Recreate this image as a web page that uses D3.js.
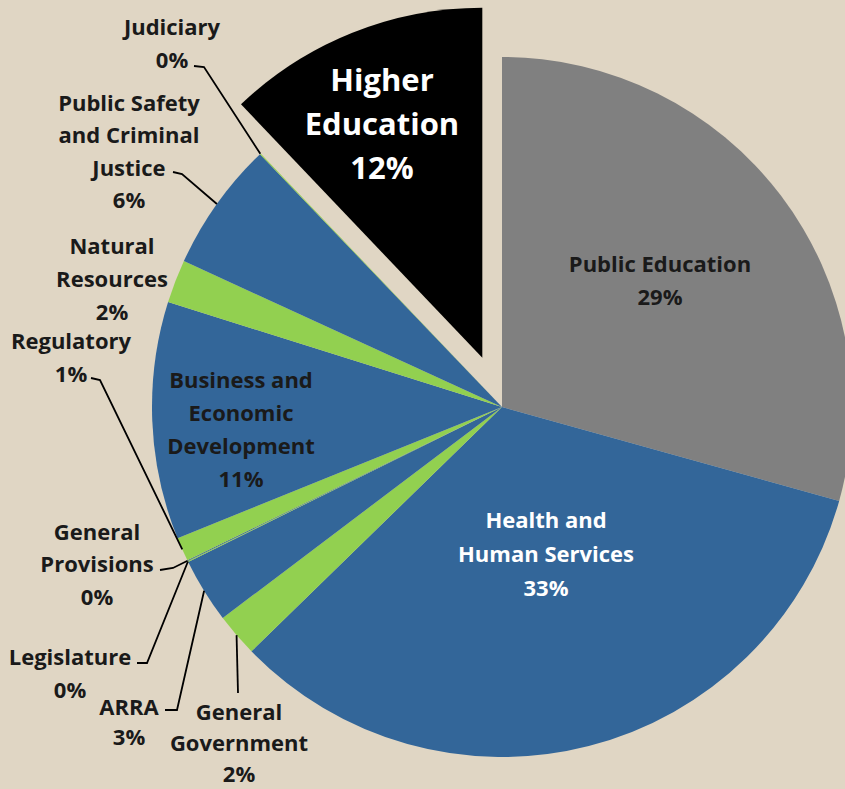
<!DOCTYPE html>
<html>
<head>
<meta charset="utf-8">
<script src="https://cdn.jsdelivr.net/npm/d3@7"></script>
<style>
  html, body { margin: 0; padding: 0; background: #e0d6c4; }
  svg { display: block; }
  text { font-family: "Open Sans", Lato, sans-serif; font-weight: 700; }
</style>
</head>
<body>
<svg id="chart" width="845" height="789"></svg>
<script>
// Budget shares by function (percent of total), clockwise from 12 o'clock
const categories = [
  "Public Education", "Health and Human Services", "General Government", "ARRA",
  "Legislature", "General Provisions", "Regulatory", "Business and Economic Development",
  "Natural Resources", "Public Safety and Criminal Justice", "Judiciary", "Higher Education"
];
const shares = [29.3, 33.35, 2.0, 3.0, 0.04, 0.04, 1.1, 10.95, 2.0, 6.0, 0.04, 12.1];
// How each name is broken over lines
const nameLines = [
  ["Public Education"], ["Health and", "Human Services"], ["General", "Government"], ["ARRA"],
  ["Legislature"], ["General", "Provisions"], ["Regulatory"], ["Business and", "Economic", "Development"],
  ["Natural", "Resources"], ["Public Safety", "and Criminal", "Justice"], ["Judiciary"], ["Higher", "Education"]
];

// Styling and placement
const BLUE = "#336699", GREEN = "#92d050", GREY = "#808080", BLACK = "#000000";
const colours = [GREY, BLUE, GREEN, BLUE, GREEN, BLUE, GREEN, BLUE, GREEN, BLUE, GREEN, BLACK];
const explodeName = "Higher Education";
const explodeBy = 53;
const cx = 502, cy = 407, R = 350;

// Label placement: x = line centre, y = centre of first line, lh = line height,
// knee = leader points drawn from the text towards the slice edge
const labelPlacement = {
  "Public Education":                  { x: 660, y: 264, lh: 33, size: 22, fill: "#1a1a1a" },
  "Health and Human Services":         { x: 546, y: 520, lh: 34, size: 22, fill: "#ffffff" },
  "Business and Economic Development": { x: 241, y: 380, lh: 33, size: 22, fill: "#1a1a1a" },
  "Higher Education":                  { x: 382, y: 80,  lh: 44, size: 31, fill: "#ffffff" },
  "Judiciary":                         { x: 172, y: 27,  lh: 33, size: 22, fill: "#1a1a1a", knee: [[194, 66], [204, 67]] },
  "Public Safety and Criminal Justice":{ x: 129, y: 103, lh: 32.5, size: 22, fill: "#1a1a1a", knee: [[173, 172], [182, 174]] },
  "Natural Resources":                 { x: 112, y: 246, lh: 33, size: 22, fill: "#1a1a1a" },
  "Regulatory":                        { x: 71,  y: 341, lh: 33, size: 22, fill: "#1a1a1a", knee: [[91, 378], [100, 380]] },
  "General Provisions":                { x: 97,  y: 532, lh: 32.5, size: 22, fill: "#1a1a1a", knee: [[160, 570], [173, 568]] },
  "Legislature":                       { x: 70,  y: 657, lh: 33, size: 22, fill: "#1a1a1a", knee: [[137, 663], [147, 663]] },
  "ARRA":                              { x: 129, y: 707, lh: 30, size: 22, fill: "#1a1a1a", knee: [[165, 710], [177, 710]] },
  "General Government":                { x: 239, y: 712, lh: 31, size: 22, fill: "#1a1a1a", knee: [[238, 693]] }
};

const svg = d3.select("#chart");
svg.append("rect").attr("width", 845).attr("height", 789).attr("fill", "#e0d6c4");

const total = d3.sum(shares);
const pct = d3.format(".0%");
const rows = categories.map((name, i) => ({ name, value: shares[i], lines: nameLines[i], colour: colours[i] }));

const pie = d3.pie().sort(null).value(d => d.value).startAngle(0).endAngle(2 * Math.PI);
const arc = d3.arc().innerRadius(0).outerRadius(R);
const arcs = pie(rows);

const g = svg.append("g").attr("transform", `translate(${cx},${cy})`);

function offsetOf(a) {
  if (a.data.name !== explodeName) return [0, 0];
  const mid = (a.startAngle + a.endAngle) / 2;
  return [Math.sin(mid) * explodeBy, -Math.cos(mid) * explodeBy];
}

g.selectAll("path.slice")
  .data(arcs)
  .join("path")
  .attr("class", "slice")
  .attr("d", arc)
  .attr("fill", d => d.data.colour)
  .attr("transform", d => { const o = offsetOf(d); return `translate(${o[0]},${o[1]})`; });

// Leader lines: from the label to the middle of the slice's outer edge
const leaders = arcs.filter(a => labelPlacement[a.data.name].knee);
svg.selectAll("polyline.leader")
  .data(leaders)
  .join("polyline")
  .attr("class", "leader")
  .attr("fill", "none")
  .attr("stroke", "#000")
  .attr("stroke-width", 1.8)
  .attr("points", a => {
    const mid = (a.startAngle + a.endAngle) / 2;
    const end = [cx + Math.sin(mid) * R, cy - Math.cos(mid) * R];
    return labelPlacement[a.data.name].knee.concat([end]).map(p => p.join(",")).join(" ");
  });

// Labels: name lines followed by the rounded share
const labels = svg.selectAll("text.label")
  .data(arcs)
  .join("text")
  .attr("class", "label")
  .attr("text-anchor", "middle")
  .attr("font-size", a => labelPlacement[a.data.name].size)
  .attr("fill", a => labelPlacement[a.data.name].fill);

labels.each(function(a) {
  const p = labelPlacement[a.data.name];
  const lines = a.data.lines.concat([pct(a.data.value / total)]);
  d3.select(this).selectAll("tspan")
    .data(lines)
    .join("tspan")
    .attr("x", p.x)
    .attr("y", (t, i) => p.y + i * p.lh)
    .attr("dy", "0.35em")
    .text(t => t);
});
</script>
</body>
</html>
